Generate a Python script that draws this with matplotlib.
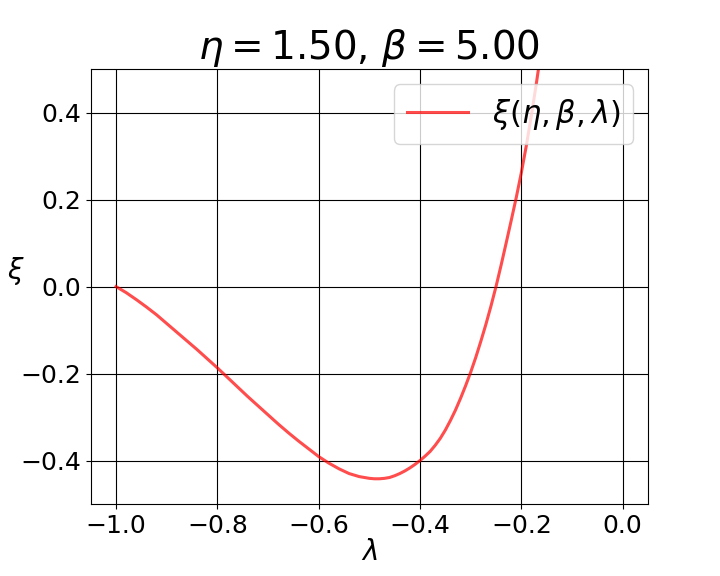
import matplotlib
matplotlib.use("Agg")
import matplotlib.pyplot as plt

# values (xi against lambda)
lam = [-1.0, -0.98, -0.96, -0.94, -0.92, -0.90, -0.88, -0.86, -0.84, -0.82,
       -0.80, -0.78, -0.76, -0.74, -0.72, -0.70, -0.68, -0.66, -0.64, -0.62,
       -0.60, -0.58, -0.56, -0.54, -0.52, -0.50, -0.49, -0.48, -0.47, -0.46,
       -0.45, -0.44, -0.43, -0.42, -0.41, -0.40, -0.39, -0.38, -0.37, -0.36,
       -0.35, -0.34, -0.33, -0.32, -0.31, -0.30, -0.29, -0.28, -0.27, -0.26,
       -0.25, -0.24, -0.23, -0.22, -0.21, -0.20, -0.19, -0.18, -0.17, -0.165]
xi = [0.0, -0.014, -0.030, -0.047, -0.065, -0.085, -0.105, -0.125, -0.145, -0.166,
      -0.187, -0.209, -0.231, -0.253, -0.274, -0.295, -0.316, -0.336, -0.355, -0.373,
      -0.391, -0.406, -0.419, -0.430, -0.437, -0.441, -0.442, -0.442, -0.441, -0.439,
      -0.435, -0.430, -0.424, -0.417, -0.409, -0.400, -0.390, -0.379, -0.365, -0.349,
      -0.330, -0.308, -0.284, -0.257, -0.228, -0.197, -0.163, -0.126, -0.087, -0.045,
      0.0, 0.049, 0.100, 0.152, 0.205, 0.262, 0.325, 0.395, 0.470, 0.510]

fig = plt.figure(figsize=(7.2, 5.76), dpi=100)
ax = fig.add_axes([0.126, 0.125, 0.774, 0.755])

ax.plot(lam, xi, color='red', alpha=0.7, lw=2.2, label=r'$\xi(\eta, \beta, \lambda)$')
ax.grid(color='black', lw=0.8)
ax.set_xlim(-1.05, 0.05)
ax.set_ylim(-0.5, 0.5)
ax.set_xticks([-1.0, -0.8, -0.6, -0.4, -0.2, 0.0])
ax.set_yticks([-0.4, -0.2, 0.0, 0.2, 0.4])
ax.tick_params(labelsize=18)
ax.set_xlabel(r'$\lambda$', fontsize=20, labelpad=0)
ax.set_ylabel(r'$\xi$', fontsize=20, rotation=0, labelpad=3)
ax.set_title(r'$\eta = 1.50$, $\beta = 5.00$', fontsize=28)
ax.legend(loc='upper right', fontsize=22)

fig.savefig('out.png', dpi=100)
